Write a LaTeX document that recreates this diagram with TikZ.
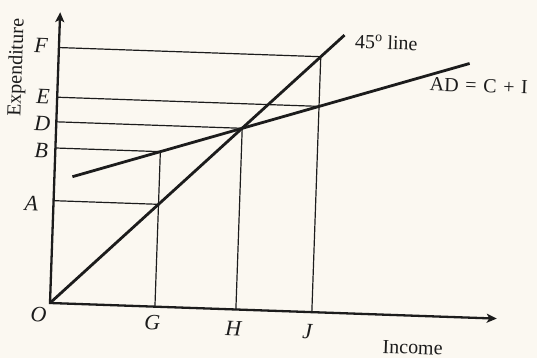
\documentclass[tikz,border=0pt]{standalone}
\usepackage{fontspec}
\setmainfont{Liberation Serif}
\usetikzlibrary{arrows.meta}
\definecolor{paper}{HTML}{FBF8F1}
\definecolor{ink}{HTML}{1C1C1C}
\begin{document}
\begin{tikzpicture}[x=1pt,y=1pt,
every node/.style={font=\fontsize{20}{24}\selectfont,text=ink,inner sep=0pt},
axis/.style={draw=ink,line width=2.3pt,{Stealth[length=10pt,width=9pt,inset=2.5pt]}-{Stealth[length=10pt,width=9pt,inset=2.5pt]}},
curve/.style={draw=ink,line width=2.8pt},
guide/.style={draw=ink,line width=1.2pt},
ptlbl/.style={font=\fontsize{22}{24}\selectfont\itshape}
]
\fill[paper] (0,0) rectangle (537,358);
\useasboundingbox (0,0) rectangle (537,358);
\begin{scope}[shift={(50,55)},rotate=-2,transform shape]
\coordinate (O) at (0,0);
\coordinate (xend) at (447,0);
\coordinate (yend) at (0,291);
\coordinate (top45) at (285,278);
\coordinate (ad1) at (18,127);
\coordinate (ad2) at (411,254);
\coordinate (a) at (0,102.4);  \coordinate (pA) at (105,102.4);
\coordinate (b) at (0,155.1);  \coordinate (pB) at (105,155.1);
\coordinate (d) at (0,181.3);  \coordinate (pD) at (186,181.3);
\coordinate (e) at (0,205.9);  \coordinate (pE) at (262,205.9);
\coordinate (f) at (0,255.6);  \coordinate (pF) at (262,255.6);
\coordinate (g) at (105,0);
\coordinate (h) at (186,0);
\coordinate (j) at (262,0);
\draw[guide] (f) -- (pF) -- (j);
\draw[guide] (e) -- (pE);
\draw[guide] (d) -- (pD) -- (h);
\draw[guide] (b) -- (pB) -- (g);
\draw[guide] (a) -- (pA);
\draw[curve] (O) -- (top45);
\draw[curve] (ad1) -- (ad2);
\draw[axis] (yend) -- (O) -- (xend);
\node[ptlbl] (lF) at (-18,257) {F};
\node[ptlbl] (lE) at (-14,206) {E};
\node[ptlbl] (lD) at (-14,179) {D};
\node[ptlbl] (lB) at (-14,152) {B};
\node[ptlbl] (lA) at (-22,99) {A};
\node[ptlbl] (lO) at (-11,-12) {O};
\node[ptlbl] (lG) at (103,-16) {G};
\node[ptlbl] (lH) at (184,-19) {H};
\node[ptlbl] (lJ) at (258,-20) {J};
\node (income) at (364,-32) {Income};
\node[rotate=90] (expend) at (-41,234) {Expenditure};
\node (line45) at (327,272) {45\textsuperscript{o} line};
\node (adlbl) at (421,232) {AD\,\,=\,\,C\,\,+\,\,I};
\end{scope}
\end{tikzpicture}
\end{document}
